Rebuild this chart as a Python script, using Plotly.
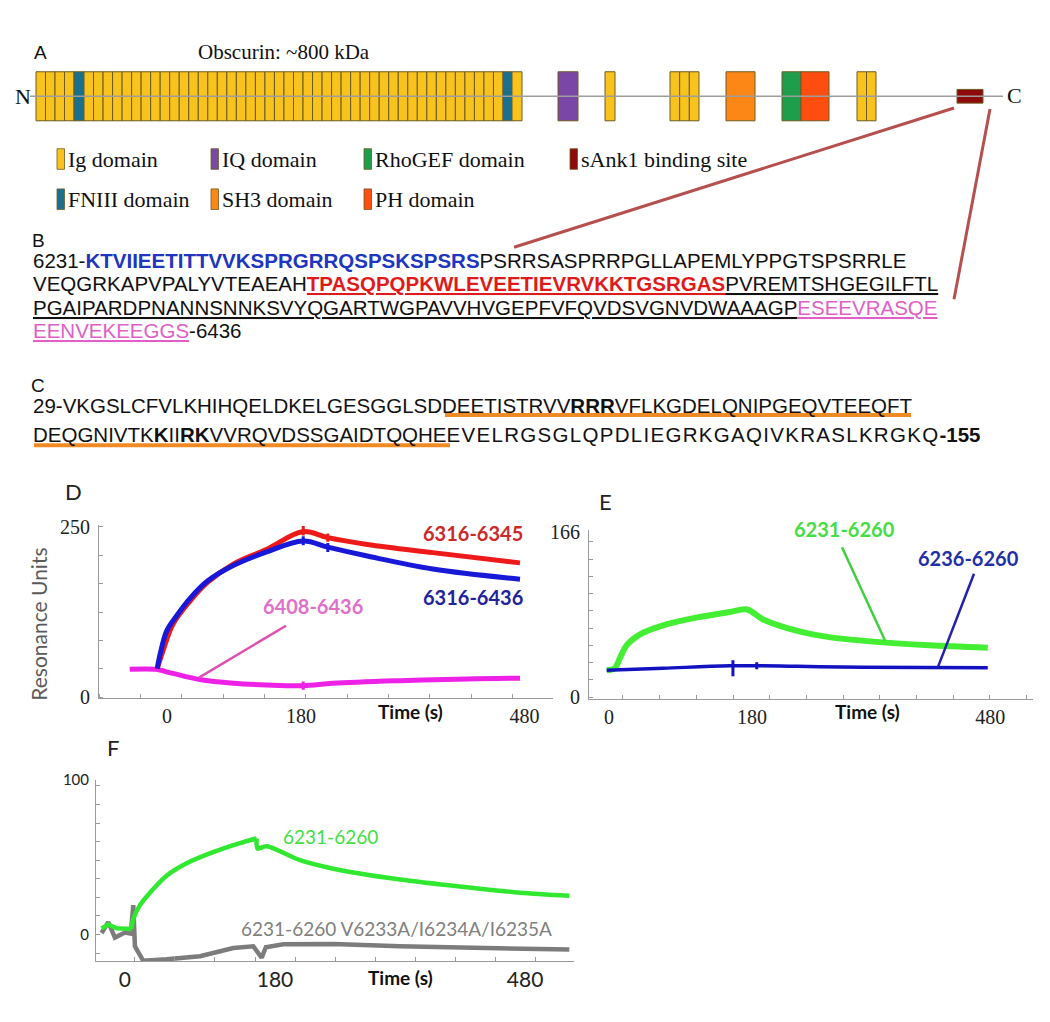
import plotly.graph_objects as go

W, H = 1050, 1022

# ---------------- Panel A : obscurin domain schematic ----------------
dom_type = ["Ig", "FNIII", "Ig", "FNIII", "Ig", "IQ", "Ig", "Ig", "SH3", "RhoGEF", "PH", "Ig", "sAnk1"]
dom_start = [36, 74, 84, 503, 512, 558, 605, 670, 726, 782, 801, 857, 957]
dom_end = [74, 84, 503, 512, 522, 578, 615, 699, 755, 801, 829, 876, 983]
dom_count = [4, 1, 44, 1, 1, 1, 1, 3, 1, 1, 1, 2, 1]
dom_height = [50, 50, 50, 50, 50, 50, 50, 50, 50, 50, 50, 50, 14]
dom_colors = {"Ig": "#f7c31c", "FNIII": "#1b6f8f", "IQ": "#7b47a6", "SH3": "#fd8716",
              "RhoGEF": "#1e9e4a", "PH": "#fe4e0f", "sAnk1": "#8e0b0b"}

legend_labels = ["Ig domain", "IQ domain", "RhoGEF domain", "sAnk1 binding site",
                 "FNIII domain", "SH3 domain", "PH domain"]
legend_types = ["Ig", "IQ", "RhoGEF", "sAnk1", "FNIII", "SH3", "PH"]

# ---------------- Panel B / C sequences ----------------
seqB = [
    '6231-<span style="font-weight:bold;color:#2035c0">KTVIIEETITTVVKSPRGRRQSPSKSPSRS</span>PSRRSASPRRPGLLAPEMLYPPGTSPSRRLE',
    'VEQGRKAPVPALYVTEAEAH<span style="font-weight:bold;color:#e01a1a;text-decoration:underline">TPASQPQPKWLEVEETIEVRVKKTGSRGAS</span><span style="text-decoration:underline">PVREMTSHGEGILFTL</span>',
    '<span style="text-decoration:underline">PGAIPARDPNANNSNNKSVYQGARTWGPAVVHVGEPFVFQVDSVGNVDWAAAGP</span><span style="color:#e060c8;text-decoration:underline">ESEEVRASQE</span>',
    '<span style="color:#e060c8;text-decoration:underline">EENVEKEEGGS</span>-6436',
]
seqC = [
    '29-VKGSLCFVLKHIHQELDKELGESGGLSDDEETISTRVV<b>RRR</b>VFLKGDELQNIPGEQVTEEQFT',
    'DEQGNIVTK<b>K</b>II<b>RK</b>VVRQVDSSGAIDTQQHE<span style="letter-spacing:1.3px">EVELRGSGLQPDLIEGRKGAQIVKRASLKRGKQ</span><b>-155</b>',
]

# ---------------- Panel D : SPR sensorgrams ----------------
tD_red = [-13, -5, 8, 31, 54, 89, 134, 183, 216, 269, 357, 474]
yD_red = [42, 69, 107, 141, 168, 195, 217, 243, 234, 224, 212, 197]
tD_blue = [-13, -9, 0, 14, 31, 54, 89, 134, 183, 216, 269, 357, 474]
yD_blue = [42, 64, 98, 121, 145, 170, 193, 213, 229, 220, 207, 188, 173]
tD_pink = [-50, -16, 8, 44, 89, 134, 183, 223, 313, 403, 474]
yD_pink = [41, 41, 35, 26, 20.5, 18, 17, 20.5, 24.4, 27, 28]
# short vertical glitches in the traces
gD_red_t = [183, 183, None, 216, 216]
gD_red_y = [237, 251, None, 228, 240]
gD_blue_t = [183, 183, None, 216, 216]
gD_blue_y = [223, 236, None, 213, 226]
gD_pink_t = [183, 183]
gD_pink_y = [11, 23]

# ---------------- Panel E ----------------
tE_green = [-3, 7, 14, 22, 39, 68, 111, 152, 174, 194, 237, 279, 345, 404, 477]
yE_green = [27, 29, 40, 52, 63, 72, 80, 85.5, 88, 78, 66.5, 60, 55, 52, 49.5]
tE_blue = [-3, 68, 152, 237, 320, 477]
yE_blue = [27, 29, 31.5, 31, 30, 29.5]
gE_blue_t = [156, 156, None, 186, 186]
gE_blue_y = [21, 37, None, 28, 35]

# ---------------- Panel F ----------------
tF_green_base = [-28, -20, -10, 5, 8]
yF_green_base = [4, 6.5, 4, 4, 3.5]
tF_green_assoc = [8, 10, 18, 30, 50, 74, 110, 138, 158]
yF_green_assoc = [3.5, 10, 19, 27, 38, 46, 54, 59, 62]
tF_green_dis = [158, 159, 170, 210, 250, 330, 410, 474, 533]
yF_green_dis = [62, 55.5, 57, 48, 42.5, 35.5, 30.5, 27, 25]
tF_grey = [-28, -20, -12, 0, 7, 10, 12, 22, 50, 90, 130, 154, 164, 169, 190, 250, 330, 410, 474, 533]
yF_grey = [1, 8, -2, 1.3, 0.6, 19, -7.6, -17, -16, -14, -8.7, -7.6, -15, -8.2, -6.3, -6.1, -7.6, -8.7, -9.5, -9.7]

ticks_time = [0, 180, 480]


def fx(x):
    return x / W


def fy(y):
    return 1 - y / H


def note(text, x, y, size, color="#111111", family="Liberation Sans",
         xanchor="center", yanchor="middle", angle=0):
    return dict(text=text, x=fx(x), y=fy(y), xref="paper", yref="paper", showarrow=False,
                font=dict(size=size, color=color, family=family),
                xanchor=xanchor, yanchor=yanchor, textangle=angle)


def pline(x0, y0, x1, y1, color, width):
    return dict(type="line", xref="paper", yref="paper", x0=fx(x0), y0=fy(y0),
                x1=fx(x1), y1=fy(y1), line=dict(color=color, width=width), layer="above")


def curve(x, y, color, width, xa, ya, spline=True, smooth=1.0):
    ln = dict(color=color, width=width)
    if spline:
        ln.update(shape="spline", smoothing=smooth)
    return go.Scatter(x=x, y=y, mode="lines", line=ln, xaxis=xa, yaxis=ya,
                      showlegend=False, hoverinfo="skip")


fig = go.Figure()

# ---- Panel A drawing on a hidden full-page axis (units = pixels) ----
fig.add_trace(go.Scatter(x=[30, 1003], y=[88, 88], mode="lines",
                         line=dict(color="#9d9d9d", width=1.5),
                         xaxis="x4", yaxis="y4", hoverinfo="skip", showlegend=False))
b_start, b_len, b_col, b_h = [], [], [], []
for typ, s, e, n, h in zip(dom_type, dom_start, dom_end, dom_count, dom_height):
    w = (e - s) / n
    for k in range(n):
        b_start.append(s + k * w)
        b_len.append(w)
        b_col.append(dom_colors[typ])
        b_h.append(h)
fig.add_trace(go.Bar(x=b_len, base=b_start, y=[88] * len(b_len), width=b_h, orientation="h",
                     marker=dict(color=b_col, line=dict(color="#6e5a22", width=1)),
                     xaxis="x4", yaxis="y4", hoverinfo="skip", showlegend=False))

# ---- Panel D traces ----
fig.add_trace(curve(tD_pink, yD_pink, "#ee22e6", 5, "x", "y"))
fig.add_trace(curve(gD_pink_t, gD_pink_y, "#ee22e6", 3, "x", "y", spline=False))
fig.add_trace(curve(tD_red, yD_red, "#ee1a1a", 5, "x", "y"))
fig.add_trace(curve(gD_red_t, gD_red_y, "#ee1a1a", 3, "x", "y", spline=False))
fig.add_trace(curve(tD_blue, yD_blue, "#1818d8", 5, "x", "y"))
fig.add_trace(curve(gD_blue_t, gD_blue_y, "#1818d8", 3, "x", "y", spline=False))

# ---- Panel E traces ----
fig.add_trace(curve(tE_green, yE_green, "#44ee33", 6, "x2", "y2", smooth=0.8))
fig.add_trace(curve(tE_blue, yE_blue, "#1212c0", 3.5, "x2", "y2"))
fig.add_trace(curve(gE_blue_t, gE_blue_y, "#1212c0", 3, "x2", "y2", spline=False))

# ---- Panel F traces ----
fig.add_trace(curve(tF_grey, yF_grey, "#7c7c7c", 4.5, "x3", "y3", spline=False))
fig.add_trace(curve(tF_green_base, yF_green_base, "#2fe82f", 4.5, "x3", "y3", spline=False))
fig.add_trace(curve(tF_green_assoc, yF_green_assoc, "#2fe82f", 4.5, "x3", "y3"))
fig.add_trace(curve(tF_green_dis, yF_green_dis, "#2fe82f", 4.5, "x3", "y3", smooth=0.8))

serif_tick = dict(family="Liberation Serif", size=20, color="#222222")
base_ax = dict(showline=True, linecolor="#9a9a9a", linewidth=1, showgrid=False, zeroline=False,
               ticks="", fixedrange=True)

annotations = []
shapes = []

# Panel A texts
annotations.append(note("A", 40, 43, 19))
annotations.append(note("Obscurin: ~800 kDa", 284, 43, 21, family="Liberation Serif"))
annotations.append(note("N", 23, 88, 22, family="Liberation Serif"))
annotations.append(note("C", 1014, 87, 22, family="Liberation Serif"))
leg_x = [68, 222, 375, 581, 68, 222, 375]
leg_y = [152, 152, 152, 152, 193, 193, 193]
for lab, typ, lx, ly in zip(legend_labels, legend_types, leg_x, leg_y):
    annotations.append(note(lab, lx - 2, ly, 22, family="Liberation Serif", xanchor="left"))
    shapes.append(dict(type="rect", xref="paper", yref="paper", x0=fx(lx - 11), x1=fx(lx - 3.5),
                       y0=fy(ly + 10.5), y1=fy(ly - 10.5), fillcolor=dom_colors[typ],
                       line=dict(color="#6e5a22", width=0.8), layer="above"))

# connector lines from sAnk1 site to sequence
shapes.append(pline(954, 100, 514, 242, "#b5504f", 3))
shapes.append(pline(990, 101, 954, 295, "#b5504f", 3))

# Panel B
annotations.append(note("B", 38, 235, 19))
for txt, yy in zip(seqB, [255, 279, 303, 327]):
    annotations.append(note(txt, 31, yy, 20.5, xanchor="left"))

# Panel C
annotations.append(note("C", 38, 383, 19))
for txt, yy in zip(seqC, [403, 433]):
    annotations.append(note(txt, 31, yy, 20.5, xanchor="left"))
shapes.append(pline(445, 413, 911, 413, "#f08a24", 4))
shapes.append(pline(34, 444, 450, 444, "#f08a24", 4))

# Panel letters
annotations.append(note("D", 73, 491, 22, family="Lato", color="#222222"))
annotations.append(note("E", 605, 501, 22, family="Lato", color="#222222"))
annotations.append(note("F", 113, 752, 22, family="Lato", color="#222222"))

# Panel D texts
annotations.append(note("Resonance Units", 39, 627, 21, color="#5a5a5a", family="Lato", angle=-90))
annotations.append(note("<b>Time (s)</b>", 410, 716, 19, family="Lato"))
annotations.append(note("<b>6316-6345</b>", 473, 533, 20, color="#cc2a2a", family="Lato"))
annotations.append(note("<b>6316-6436</b>", 473, 599, 20, color="#22229a", family="Lato"))
annotations.append(note("<b>6408-6436</b>", 313, 608, 20, color="#e070c8", family="Lato"))
shapes.append(pline(286, 628, 199, 681, "#e050b0", 2.5))

# Panel E texts
annotations.append(note("<b>Time (s)</b>", 867, 716, 19, family="Lato"))
annotations.append(note("<b>6231-6260</b>", 844, 529, 20, color="#44dd44", family="Lato"))
annotations.append(note("<b>6236-6260</b>", 968, 559, 20, color="#1f2fa8", family="Lato"))
shapes.append(pline(842, 548, 885, 643, "#40d040", 2.5))
shapes.append(pline(974, 575, 938, 670, "#2020b0", 2.5))

# Panel F texts
annotations.append(note("<b>Time (s)</b>", 400, 987, 19, family="Lato"))
annotations.append(note("6231-6260", 330, 843, 19, color="#3fe03f", family="Lato"))
annotations.append(note("6231-6260 V6233A/I6234A/I6235A", 396, 937, 19, color="#808080", family="Lato"))

layout = dict(
    width=W, height=H, margin=dict(l=0, r=0, t=0, b=0),
    paper_bgcolor="white", plot_bgcolor="rgba(0,0,0,0)",
    barmode="overlay", showlegend=False,
    annotations=annotations, shapes=shapes,
    # Panel D
    xaxis=dict(base_ax, domain=[fx(99), fx(553)], range=[-91.2, 518.3], anchor="y",
               tickvals=ticks_time, tickfont=serif_tick,
               minor=dict(ticks="inside", ticklen=4, tickcolor="#9a9a9a", tick0=20, dtick=55.5)),
    yaxis=dict(base_ax, domain=[fy(702), fy(525)], range=[-1.4, 252.9], anchor="x",
               tickvals=[0, 250], tickfont=serif_tick, ticklabelstandoff=4,
               minor=dict(ticks="inside", ticklen=4, tickcolor="#9a9a9a", tick0=0, dtick=250 / 6)),
    # Panel E
    xaxis2=dict(base_ax, domain=[fx(589), fx(1033)], range=[-25.3, 534], anchor="y2",
                tickvals=ticks_time, tickfont=serif_tick,
                minor=dict(ticks="inside", ticklen=4, tickcolor="#9a9a9a", tick0=17.5, dtick=46.2)),
    yaxis2=dict(base_ax, domain=[fy(703), fy(530)], range=[-2, 168], anchor="x2",
                tickvals=[0, 166], tickfont=serif_tick, ticklabelstandoff=4,
                minor=dict(ticks="inside", ticklen=4, tickcolor="#9a9a9a", tick0=0, dtick=17.3)),
    # Panel F
    xaxis3=dict(base_ax, domain=[fx(96), fx(574)], range=[-34.7, 538.6], anchor="y3",
                tickvals=ticks_time, tickfont=dict(family="Lato", size=21, color="#222222"),
                minor=dict(ticks="inside", ticklen=4, tickcolor="#9a9a9a", tick0=12, dtick=48)),
    yaxis3=dict(base_ax, domain=[fy(970), fy(785)], range=[-17.1, 100], anchor="x3",
                tickvals=[0, 100], tickfont=dict(family="Lato", size=15, color="#222222"),
                ticklabelstandoff=3,
                minor=dict(ticks="inside", ticklen=4, tickcolor="#9a9a9a", tick0=0, dtick=12)),
    # hidden page axis for the schematic
    xaxis4=dict(domain=[0, 1], range=[0, W], visible=False, fixedrange=True, anchor="y4"),
    yaxis4=dict(domain=[0, 1], range=[H, 0], visible=False, fixedrange=True, anchor="x4"),
)
fig.update_layout(**layout)
fig.write_html("out.html", config={"displayModeBar": False},
               post_script="document.body.style.margin='0';document.body.style.overflow='hidden';")
